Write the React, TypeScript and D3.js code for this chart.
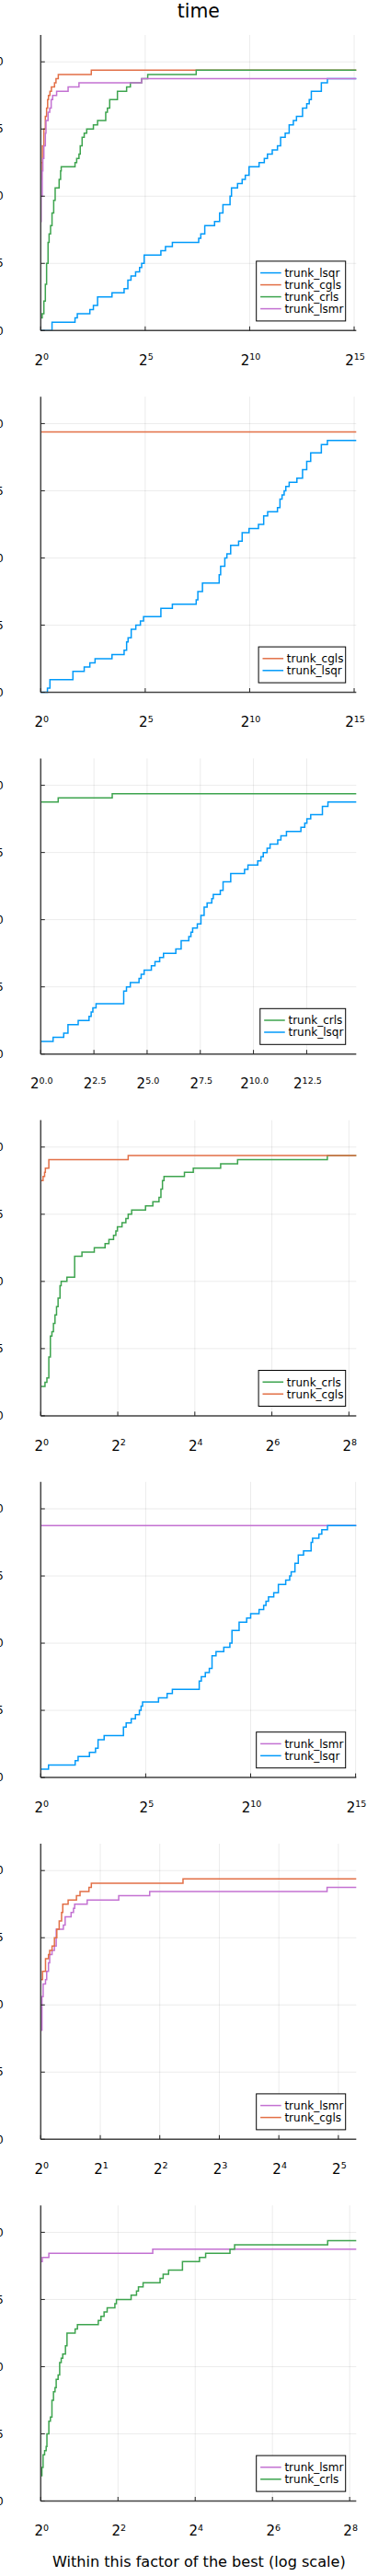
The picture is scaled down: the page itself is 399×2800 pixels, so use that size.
import React, { useMemo } from 'react';
import * as d3 from 'd3';

const WIDTH = 399;
const HEIGHT = 2800;
const TOTAL_PROBLEMS = 64;
const FONT = '"DejaVu Sans", Verdana, sans-serif';

const COLORS: Record<string, string> = {
  trunk_lsqr: '#009AFA',
  trunk_cgls: '#E26F46',
  trunk_crls: '#3DA44E',
  trunk_lsmr: '#C371D2',
};

type Step = [number, number]; // [log2 of ratio to best, problems solved]

// ---------- panel 1: all four solvers ----------
const p1_lsqr: Step[] = [[0,0],[0.54,2],[1.64,3],[1.75,4],[2.35,5],[2.52,6],[2.72,8],[3.41,9],[3.99,10],[4.17,12],[4.32,13],[4.54,14],[4.73,15],[4.83,16],[4.95,18],[5.75,19],[5.97,20],[6.30,21],[7.56,22],[7.66,23],[7.85,25],[8.32,26],[8.56,28],[8.72,30],[9.06,32],[9.13,34],[9.42,35],[9.64,36],[9.79,37],[9.97,39],[10.45,40],[10.7,41],[10.85,42],[11.08,43],[11.33,44],[11.48,46],[11.70,47],[11.89,49],[12.09,50],[12.24,51],[12.53,53],[12.73,54],[12.85,55],[12.95,57],[13.43,59],[13.72,60]];
const p1_cgls: Step[] = [[0,36],[0.03,40],[0.08,44],[0.15,48],[0.22,51],[0.28,53],[0.33,55],[0.37,56],[0.44,57],[0.51,58],[0.66,59],[0.73,60],[0.84,61],[2.42,62]];
const p1_crls: Step[] = [[0,3],[0.07,4],[0.15,7],[0.22,11],[0.28,16],[0.35,21],[0.4,23],[0.47,25],[0.54,28],[0.62,31],[0.69,34],[0.88,36],[0.95,38],[0.98,39],[1.64,40],[1.72,41],[1.83,42],[1.89,44],[1.98,46],[2.08,47],[2.2,48],[2.52,49],[2.72,50],[3.11,52],[3.19,53],[3.3,55],[3.67,57],[4.11,58],[4.29,59],[4.83,60],[5.12,61],[7.44,62]];
const p1_lsmr: Step[] = [[0,26],[0.02,32],[0.07,38],[0.1,41],[0.15,44],[0.22,47],[0.25,50],[0.35,52],[0.43,53],[0.5,55],[0.57,56],[0.76,57],[1.31,58],[1.83,59],[4.83,60]];

// ---------- panel 2: cgls vs lsqr ----------
const p2_cgls: Step[] = [[0,62]];
const p2_lsqr: Step[] = [[0,0],[0.32,1],[0.44,3],[1.54,5],[2.08,6],[2.35,7],[2.6,8],[3.41,9],[3.99,10],[4.11,12],[4.18,13],[4.33,15],[4.55,16],[4.77,17],[4.92,18],[5.75,20],[6.30,21],[7.44,22],[7.52,24],[7.74,26],[8.54,28],[8.61,30],[8.81,32],[8.91,33],[9.09,35],[9.47,36],[9.64,38],[9.97,39],[10.42,40],[10.67,42],[10.86,43],[11.33,44],[11.45,46],[11.55,47],[11.65,48],[11.73,49],[11.89,50],[12.26,51],[12.53,53],[12.73,55],[12.92,57],[13.43,59],[13.72,60]];

// ---------- panel 3: crls vs lsqr ----------
const p3_crls: Step[] = [[0,60],[0.82,61],[3.36,62]];
const p3_lsqr: Step[] = [[0,3],[0.58,4],[1.08,5],[1.28,7],[1.76,8],[2.27,9],[2.37,10],[2.45,11],[2.6,12],[3.9,15],[4.03,16],[4.21,17],[4.62,18],[4.72,19],[4.86,20],[5.2,21],[5.37,22],[5.59,23],[5.77,24],[6.35,25],[6.6,27],[6.96,28],[7.06,29],[7.14,30],[7.36,31],[7.53,33],[7.68,35],[7.82,36],[8.04,37],[8.11,38],[8.44,39],[8.57,41],[8.93,43],[9.58,44],[9.74,45],[10.2,46],[10.35,47],[10.46,48],[10.64,49],[10.78,50],[11.14,51],[11.29,52],[11.55,53],[12.23,54],[12.41,55],[12.51,56],[12.69,57],[13.24,59],[13.5,60]];

// ---------- panel 4: crls vs cgls ----------
const p4_crls: Step[] = [[0,7],[0.11,8],[0.16,9],[0.21,14],[0.25,19],[0.29,20],[0.33,22],[0.37,24],[0.41,26],[0.45,28],[0.5,31],[0.53,32],[0.68,33],[0.88,38],[1.07,39],[1.39,40],[1.67,41],[1.77,42],[1.89,43],[1.95,44],[1.99,45],[2.11,46],[2.21,47],[2.27,48],[2.36,49],[2.72,50],[2.91,51],[3.07,52],[3.12,54],[3.16,56],[3.2,57],[3.73,58],[3.96,59],[4.67,60],[5.11,61],[7.44,62]];
const p4_cgls: Step[] = [[0,56],[0.06,57],[0.1,58],[0.12,59],[0.21,61],[2.27,62]];

// ---------- panel 5: lsmr vs lsqr ----------
const p5_lsmr: Step[] = [[0,60]];
const p5_lsqr: Step[] = [[0,2],[0.37,3],[1.64,4],[1.78,5],[2.32,6],[2.61,7],[2.73,9],[3.02,10],[3.94,12],[4.07,13],[4.31,14],[4.51,15],[4.7,16],[4.78,17],[4.85,18],[5.61,19],[6.02,20],[6.27,21],[7.55,23],[7.65,24],[7.84,25],[8.03,26],[8.16,29],[8.35,30],[8.72,31],[9.01,32],[9.11,35],[9.45,37],[9.81,38],[10.0,39],[10.4,40],[10.62,41],[10.73,42],[10.85,43],[11.1,44],[11.32,46],[11.67,47],[11.86,48],[11.93,49],[12.11,51],[12.27,53],[12.52,54],[12.88,56],[12.95,57],[13.25,58],[13.39,59],[13.66,60]];

// ---------- panel 6: lsmr vs cgls ----------
const p6_lsmr: Step[] = [[0,26],[0.02,34],[0.04,37],[0.08,38],[0.1,40],[0.13,42],[0.15,44],[0.19,45],[0.23,46],[0.26,50],[0.38,51],[0.41,53],[0.51,54],[0.55,55],[0.57,56],[0.78,57],[1.31,58],[1.83,59],[4.81,60]];
const p6_cgls: Step[] = [[0,38],[0.03,40],[0.08,43],[0.13,44],[0.15,45],[0.19,46],[0.23,48],[0.27,50],[0.31,52],[0.35,54],[0.37,56],[0.46,57],[0.6,58],[0.66,59],[0.81,60],[0.85,61],[2.39,62]];

// ---------- panel 7: lsmr vs crls ----------
const p7_lsmr: Step[] = [[0,57],[0.04,58],[0.21,59],[2.9,60]];
const p7_crls: Step[] = [[0,6],[0.03,8],[0.06,11],[0.1,12],[0.14,13],[0.16,16],[0.21,19],[0.25,20],[0.29,24],[0.33,26],[0.37,27],[0.4,29],[0.45,30],[0.49,33],[0.53,34],[0.57,35],[0.64,37],[0.68,40],[0.89,41],[0.95,42],[1.49,43],[1.56,44],[1.64,45],[1.72,46],[1.92,47],[1.96,48],[2.34,49],[2.48,50],[2.53,51],[2.65,52],[3.09,53],[3.17,54],[3.31,55],[3.67,57],[4.11,58],[4.27,59],[4.9,60],[5.02,61],[7.43,62]];

const Y_TICKS = [0, 0.25, 0.5, 0.75, 1.0];
const Y_TICK_LABELS = ['0.00', '0.25', '0.50', '0.75', '1.00'];

const TITLE = 'time';
const X_LABEL = 'Within this factor of the best (log scale)';

interface Panel {
  series: { name: string; steps: Step[] }[];
  xMax: number;
  xTicks: number[];
  decimals: number;
}

const PANELS: Panel[] = [
  { series: [{ name: 'trunk_lsqr', steps: p1_lsqr }, { name: 'trunk_cgls', steps: p1_cgls }, { name: 'trunk_crls', steps: p1_crls }, { name: 'trunk_lsmr', steps: p1_lsmr }], xMax: 15.1, xTicks: [0, 5, 10, 15], decimals: 0 },
  { series: [{ name: 'trunk_cgls', steps: p2_cgls }, { name: 'trunk_lsqr', steps: p2_lsqr }], xMax: 15.1, xTicks: [0, 5, 10, 15], decimals: 0 },
  { series: [{ name: 'trunk_crls', steps: p3_crls }, { name: 'trunk_lsqr', steps: p3_lsqr }], xMax: 14.83, xTicks: [0, 2.5, 5, 7.5, 10, 12.5], decimals: 1 },
  { series: [{ name: 'trunk_crls', steps: p4_crls }, { name: 'trunk_cgls', steps: p4_cgls }], xMax: 8.19, xTicks: [0, 2, 4, 6, 8], decimals: 0 },
  { series: [{ name: 'trunk_lsmr', steps: p5_lsmr }, { name: 'trunk_lsqr', steps: p5_lsqr }], xMax: 15.03, xTicks: [0, 5, 10, 15], decimals: 0 },
  { series: [{ name: 'trunk_lsmr', steps: p6_lsmr }, { name: 'trunk_cgls', steps: p6_cgls }], xMax: 5.3, xTicks: [0, 1, 2, 3, 4, 5], decimals: 0 },
  { series: [{ name: 'trunk_lsmr', steps: p7_lsmr }, { name: 'trunk_crls', steps: p7_crls }], xMax: 8.17, xTicks: [0, 2, 4, 6, 8], decimals: 0 },
];

// layout
const PLOT_LEFT = 44.3;
const PLOT_RIGHT = 387.3;
const FIRST_BOTTOM = 359.3;
const PANEL_STEP = 393.2;
const PLOT_HEIGHT = 321.3;
const LEGEND_RIGHT = 375.7;
const LEGEND_FONT = 12;
const TICK_FONT = 11.7;

function measure(text: string, size: number): number {
  if (typeof document === 'undefined') return text.length * size * 0.6;
  const c = document.createElement('canvas');
  const ctx = c.getContext('2d');
  if (!ctx) return text.length * size * 0.6;
  ctx.font = `${size}px "DejaVu Sans"`;
  return ctx.measureText(text).width;
}

function PanelView({ panel, index }: { panel: Panel; index: number }) {
  const bottom = FIRST_BOTTOM + index * PANEL_STEP;
  const top = bottom - PLOT_HEIGHT;
  const x = d3.scaleLinear().domain([0, panel.xMax]).range([PLOT_LEFT, PLOT_RIGHT]);
  const y = d3.scaleLinear().domain([0, 1.1]).range([bottom, top]);
  const line = d3
    .line<Step>()
    .x((d) => x(d[0]))
    .y((d) => y(d[1] / TOTAL_PROBLEMS))
    .curve(d3.curveStepAfter);

  const legendW = useMemo(() => Math.max(...panel.series.map((s) => measure(s.name, LEGEND_FONT))) + 33, [panel]);
  const legendH = 13 * panel.series.length + 13;
  const lx = LEGEND_RIGHT - legendW;
  const ly = bottom - 10.4 - legendH;

  return (
    <g>
      {/* grid */}
      {panel.xTicks.map((t) => (
        <line key={'gx' + t} x1={x(t)} x2={x(t)} y1={top} y2={bottom} stroke="#000" strokeOpacity={0.1} strokeWidth={0.8} />
      ))}
      {Y_TICKS.map((t) => (
        <line key={'gy' + t} x1={PLOT_LEFT} x2={PLOT_RIGHT} y1={y(t)} y2={y(t)} stroke="#000" strokeOpacity={0.1} strokeWidth={0.8} />
      ))}
      {/* series */}
      {panel.series.map((s) => {
        const last = s.steps[s.steps.length - 1];
        const pts: Step[] = [...s.steps, [panel.xMax, last[1]]];
        return <path key={s.name} d={line(pts) || ''} fill="none" stroke={COLORS[s.name]} strokeWidth={1.5} />;
      })}
      {/* axes */}
      <line x1={PLOT_LEFT} x2={PLOT_LEFT} y1={top} y2={bottom} stroke="#444" strokeWidth={1.5} />
      <line x1={PLOT_LEFT} x2={PLOT_RIGHT} y1={bottom} y2={bottom} stroke="#444" strokeWidth={1.5} />
      {Y_TICKS.map((t, i) => (
        <g key={'yt' + t}>
          <line x1={PLOT_LEFT} x2={PLOT_LEFT + 4.5} y1={y(t)} y2={y(t)} stroke="#222" strokeWidth={1} />
          <text x={3.6} y={y(t)} dy="0.36em" textAnchor="end" fontFamily={FONT} fontSize={TICK_FONT} fill="#000">
            {Y_TICK_LABELS[i]}
          </text>
        </g>
      ))}
      {panel.xTicks.map((t) => (
        <g key={'xt' + t}>
          <line x1={x(t)} x2={x(t)} y1={bottom} y2={bottom - 4.5} stroke="#222" strokeWidth={1} />
          <text x={x(t) + 1} y={bottom + 37.7} textAnchor="middle" fontFamily={FONT} fontSize={15} fill="#000">
            <tspan>2</tspan>
            <tspan dy={-5.7} fontSize={9.5}>{t.toFixed(panel.decimals)}</tspan>
          </text>
        </g>
      ))}
      {/* legend */}
      <rect x={lx} y={ly} width={legendW} height={legendH} fill="#fff" stroke="#000" strokeWidth={1} />
      {panel.series.map((s, i) => {
        const cy = ly + 12.7 + 13 * i;
        return (
          <g key={'lg' + s.name}>
            <line x1={lx + 4.4} x2={lx + 27} y1={cy} y2={cy} stroke={COLORS[s.name]} strokeWidth={1.5} />
            <text x={lx + 30.7} y={cy} dy="0.36em" fontFamily={FONT} fontSize={LEGEND_FONT} fill="#000">
              {s.name}
            </text>
          </g>
        );
      })}
    </g>
  );
}

export default function App() {
  return (
    <svg
      width={WIDTH}
      height={HEIGHT}
      viewBox={`0 0 ${WIDTH} ${HEIGHT}`}
      style={{ position: 'absolute', left: 0, top: 0, background: '#fff' }}
    >
      <rect x={0} y={0} width={WIDTH} height={HEIGHT} fill="#fff" />
      <text x={(PLOT_LEFT + PLOT_RIGHT) / 2} y={18.5} textAnchor="middle" fontFamily={FONT} fontSize={20.4} fill="#000">
        {TITLE}
      </text>
      {PANELS.map((p, i) => (
        <PanelView key={i} panel={p} index={i} />
      ))}
      <text x={216.3} y={2790} textAnchor="middle" fontFamily={FONT} fontSize={16.1} fill="#000">
        {X_LABEL}
      </text>
    </svg>
  );
}
